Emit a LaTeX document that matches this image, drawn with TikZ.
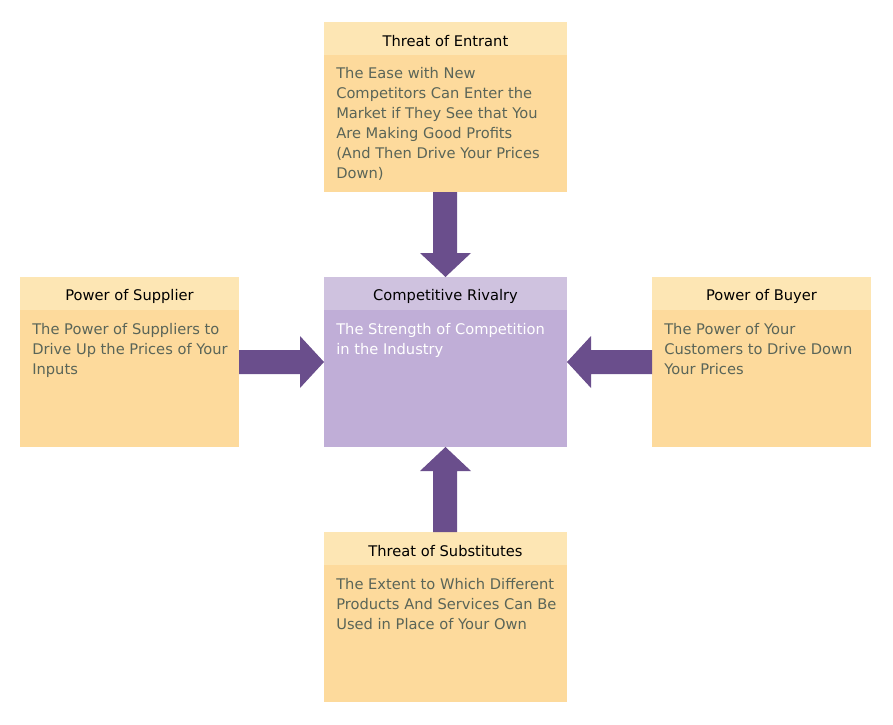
\documentclass[tikz,border=0pt]{standalone}
\usepackage{fontspec}
\setmainfont{DejaVu Sans}
\begin{document}
\begin{tikzpicture}[x=0.75pt,y=-0.75pt,
  hd/.style={font=\fontsize{11}{13}\selectfont, text=black, anchor=center},
  bd/.style={font=\fontsize{11}{15}\selectfont, anchor=north west, align=left, inner sep=0pt},
  arr/.style={fill=arrowc, draw=none}]
\definecolor{ohead}{HTML}{FDE6B4}
\definecolor{obody}{HTML}{FDDA9C}
\definecolor{oline}{HTML}{F6D38E}
\definecolor{phead}{HTML}{CFC2DF}
\definecolor{pbody}{HTML}{C0AED7}
\definecolor{arrowc}{HTML}{6A4E8C}
\definecolor{otext}{HTML}{5A6558}
\useasboundingbox (0,0) rectangle (893,725);
% boxes: name, x, y, w, h
\newcommand{\mybox}[9]{%
  \fill[#6] (#2,#3) rectangle ++(#4,#5);
  \fill[#7] (#2,#3) rectangle ++(#4,33);
  \node[hd] (#1h) at ({#2+#4/2},{#3+17}) {#8};
  \node[bd, text=#9] (#1b) at ({#2+12},{#3+45}) {\textcolor{#9}{}};}
\fill[obody] (324,22) rectangle (567,192); \fill[ohead] (324,22) rectangle (567,55);
\fill[obody] (20,277) rectangle (239,447); \fill[ohead] (20,277) rectangle (239,310);
\fill[pbody] (324,277) rectangle (567,447); \fill[phead] (324,277) rectangle (567,310);
\fill[obody] (652,277) rectangle (871,447); \fill[ohead] (652,277) rectangle (871,310);
\fill[obody] (324,532) rectangle (567,702); \fill[ohead] (324,532) rectangle (567,565);
\node[hd] (th) at (445.5,41) {Threat of Entrant};
\node[hd] (sh) at (129.5,296) {Power of Supplier};
\node[hd] (ch) at (445.5,296) {Competitive Rivalry};
\node[hd] (bh) at (761.5,296) {Power of Buyer};
\node[hd] (uh) at (445.5,551) {Threat of Substitutes};
\node[bd, text=otext] (tb) at (336,67) {The Ease with New\\Competitors Can Enter the\\Market if They See that You\\Are Making Good Profits\\(And Then Drive Your Prices\\Down)};
\node[bd, text=otext] (sb) at (32,323) {The Power of Suppliers to\\Drive Up the Prices of Your\\Inputs};
\node[bd, text=white] (cb) at (336,323) {The Strength of Competition\\in the Industry};
\node[bd, text=otext] (bb) at (664,323) {The Power of Your\\Customers to Drive Down\\Your Prices};
\node[bd, text=otext] (ub) at (336,578) {The Extent to Which Different\\Products And Services Can Be\\Used in Place of Your Own};
% arrows
\fill[arr] (433,192) -- (457,192) -- (457,253) -- (471,253) -- (445.5,277) -- (420,253) -- (433,253) -- cycle;
\fill[arr] (433,532) -- (457,532) -- (457,471) -- (471,471) -- (445.5,447) -- (420,471) -- (433,471) -- cycle;
\fill[arr] (239,350) -- (300,350) -- (300,336) -- (324,362) -- (300,388) -- (300,374) -- (239,374) -- cycle;
\fill[arr] (652,350) -- (591,350) -- (591,336) -- (567,362) -- (591,388) -- (591,374) -- (652,374) -- cycle;
\end{tikzpicture}
\end{document}
